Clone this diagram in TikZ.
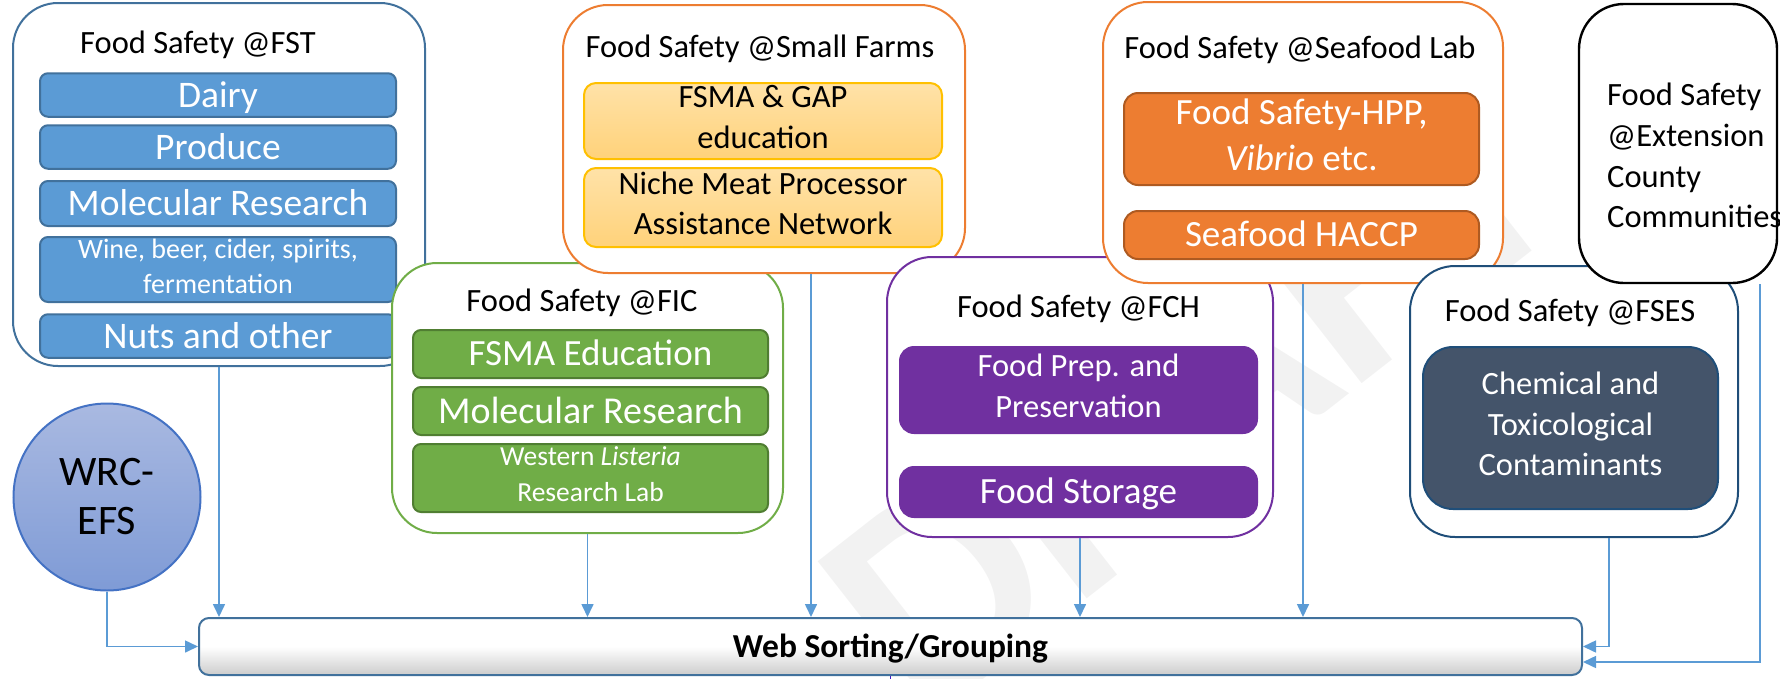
\documentclass[tikz,border=0pt]{standalone}
\usepackage{fontspec}
\setmainfont{Carlito}
\usetikzlibrary{arrows.meta,calc}
\definecolor{fstblue}{HTML}{41719C}
\definecolor{accblue}{HTML}{5B9BD5}
\definecolor{orng}{HTML}{ED7D31}
\definecolor{orngdark}{HTML}{AE5A21}
\definecolor{gold}{HTML}{FFC000}
\definecolor{lightorng1}{HTML}{FFE2A8}
\definecolor{lightorng2}{HTML}{FFD27A}
\definecolor{grn}{HTML}{70AD47}
\definecolor{grndark}{HTML}{507E32}
\definecolor{purp}{HTML}{7030A0}
\definecolor{navy}{HTML}{1F4E79}
\definecolor{slate}{HTML}{44546A}
\definecolor{wrcborder}{HTML}{4472C4}
\definecolor{wrctop}{HTML}{A9B9E1}
\definecolor{wrcbot}{HTML}{7F9BD6}
\definecolor{wmark}{HTML}{F2F2F2}
\definecolor{webgrey}{HTML}{CCCCCC}
\newcommand{\vstr}{\rule[-0.26em]{0pt}{1.16em}}
\begin{document}
\begin{tikzpicture}[x=1pt,y=-1pt,
  outerbox/.style={draw, line width=2pt, fill=white, rounded corners=45pt, inner sep=0pt},
  subbox/.style={draw, line width=2pt, rounded corners=8pt, inner sep=0pt, align=center, text=white,
    execute at begin node=\vstr, execute at end node=\vstr},
  titletext/.style={anchor=base, inner sep=0pt, font=\fontsize{32.5}{39.7}\selectfont},
  bigtext/.style={font=\fontsize{37.5}{45.7}\selectfont},
  midtext/.style={font=\fontsize{32.5}{40.5}\selectfont},
  smalltext/.style={font=\fontsize{28}{35}\selectfont},
  fstsub/.style={subbox, fill=accblue, draw=fstblue, minimum width=356, rounded corners=8pt},
  sfsub/.style={subbox, top color=lightorng1, bottom color=lightorng2, draw=gold, text=black, minimum width=358, rounded corners=12pt},
  seasub/.style={subbox, fill=orng, draw=orngdark, minimum width=355, rounded corners=14pt},
  ficsub/.style={subbox, fill=grn, draw=grndark, minimum width=355, rounded corners=8pt},
  fchsub/.style={subbox, fill=purp, draw=purp, minimum width=357, rounded corners=14pt},
  arr/.style={draw=accblue, line width=1.6pt, -{Triangle[length=13pt,width=12pt]}}
]
\useasboundingbox (0,0) rectangle (1780,678);

% watermark
\node[rotate=38, text=wmark, inner sep=0pt, font=\fontsize{300}{300}\selectfont\bfseries] (draft) at (1190,395) {DRAFT};

% Food Safety @FST
\node[outerbox, draw=fstblue, minimum width=412, minimum height=363] (fst) at (219,184.5) {};
\node[titletext] (tfst) at (198,53) {Food Safety @FST};
\node[fstsub, bigtext, minimum height=38] (dairy) at (218,95) {Dairy};
\node[fstsub, bigtext, minimum height=42] (produce) at (218,147) {Produce};
\node[fstsub, bigtext, minimum height=45] (molec) at (218,203.5) {Molecular Research};
\node[fstsub, smalltext, minimum height=65] (wine) at (218,269.5) {Wine, beer, cider, spirits,\\fermentation};
\node[fstsub, bigtext, minimum height=42] (nuts) at (218,336) {Nuts and other};

% Food Safety @FIC
\node[outerbox, draw=grn, minimum width=391, minimum height=270] (fic) at (587.5,398) {};
\node[titletext] (tfic) at (582,311) {Food Safety @FIC};
\node[ficsub, font=\fontsize{37}{45}\selectfont, minimum height=48] (fsmaed) at (590.5,354) {FSMA Education};
\node[ficsub, font=\fontsize{38}{46}\selectfont, minimum height=48] (molectwo) at (590.5,411) {Molecular Research};
\node[ficsub, font=\fontsize{27.5}{36}\selectfont, minimum height=68] (listeria) at (590.5,478) {Western \textit{Listeria}\\Research Lab};

% Food Safety @Small Farms
\node[outerbox, draw=orng, minimum width=402, minimum height=268] (sf) at (764,139) {};
\node[titletext] (tsf) at (760,57) {Food Safety @Small Farms};
\node[sfsub, midtext, minimum height=76] (gap) at (763,121) {FSMA \& GAP\\education};
\node[sfsub, midtext, minimum height=79] (niche) at (763,207.5) {Niche Meat Processor\\Assistance Network};

% Food Safety @FCH
\node[outerbox, draw=purp, minimum width=386, minimum height=280] (fch) at (1080,397) {};
\node[titletext] (tfch) at (1078.5,317) {Food Safety @FCH};
\node[fchsub, midtext, minimum height=86] (prep) at (1078.5,390) {Food Prep. and\\Preservation};
\node[fchsub, font=\fontsize{37}{45}\selectfont, minimum height=50] (storage) at (1078.5,492) {Food Storage};

% Food Safety @Seafood Lab
\node[outerbox, draw=orng, minimum width=400, minimum height=281] (sea) at (1303,142.5) {};
\node[titletext] (tsea) at (1300,58) {Food Safety @Seafood Lab};
\node[seasub, font=\fontsize{37}{46}\selectfont, minimum height=92] (hpp) at (1301.5,139) {Food Safety-HPP,\\\textit{Vibrio} etc.};
\node[seasub, font=\fontsize{37}{46}\selectfont, minimum height=48] (haccp) at (1301.5,235) {Seafood HACCP};

% Food Safety @FSES
\node[outerbox, draw=navy, minimum width=328, minimum height=271] (fses) at (1574,401.5) {};
\node[titletext] (tfses) at (1570,321) {Food Safety @FSES};
\node[subbox, fill=slate, draw=navy, midtext, minimum width=295, minimum height=162, rounded corners=30pt] (chem) at (1570.5,428) {Chemical and\\Toxicological\\Contaminants};

% Food Safety @Extension
\node[outerbox, draw=black, line width=2.4pt, minimum width=198, minimum height=279] (ext) at (1678,143.5) {};
\node[anchor=north west, align=left, inner sep=0pt, font=\fontsize{32.5}{40.7}\selectfont] (exttext) at (1607,83) {Food Safety\\@Extension\\County\\Communities};

% WRC-EFS
\node[circle, draw=wrcborder, line width=2pt, top color=wrctop, bottom color=wrcbot, minimum size=187, inner sep=0pt, align=center, font=\fontsize{42}{49}\selectfont] (wrc) at (107,497) {WRC-\\EFS};

% Web Sorting/Grouping
\node[draw=fstblue, line width=2pt, rounded corners=10pt, top color=white, bottom color=webgrey, middle color=white, minimum width=1383, minimum height=57, inner sep=0pt, font=\fontsize{33.5}{40}\selectfont\bfseries, execute at begin node=\vstr, execute at end node=\vstr] (web) at (890.5,646.5) {Web Sorting/Grouping};

% connectors
\draw[arr] (fst.south) -- (fst.south |- web.north);
\draw[arr] ([xshift=47pt]sf.south) -- ([xshift=47pt]sf.south |- web.north);
\draw[arr] (fic.south) -- (fic.south |- web.north);
\draw[arr] (fch.south) -- (fch.south |- web.north);
\draw[arr] (sea.south) -- (sea.south |- web.north);
\draw[arr] ([xshift=35pt]fses.south) |- (web.east);
\draw[arr] ([xshift=82pt]ext.south) |- ([yshift=-15.5pt]web.east);
\draw[arr] (wrc.south) |- (web.west);
\coordinate (webout) at ($(web.south)+(0,6)$);
\draw[draw=purp!60!blue, line width=1.6pt] (web.south) -- (webout);
\end{tikzpicture}
\end{document}
